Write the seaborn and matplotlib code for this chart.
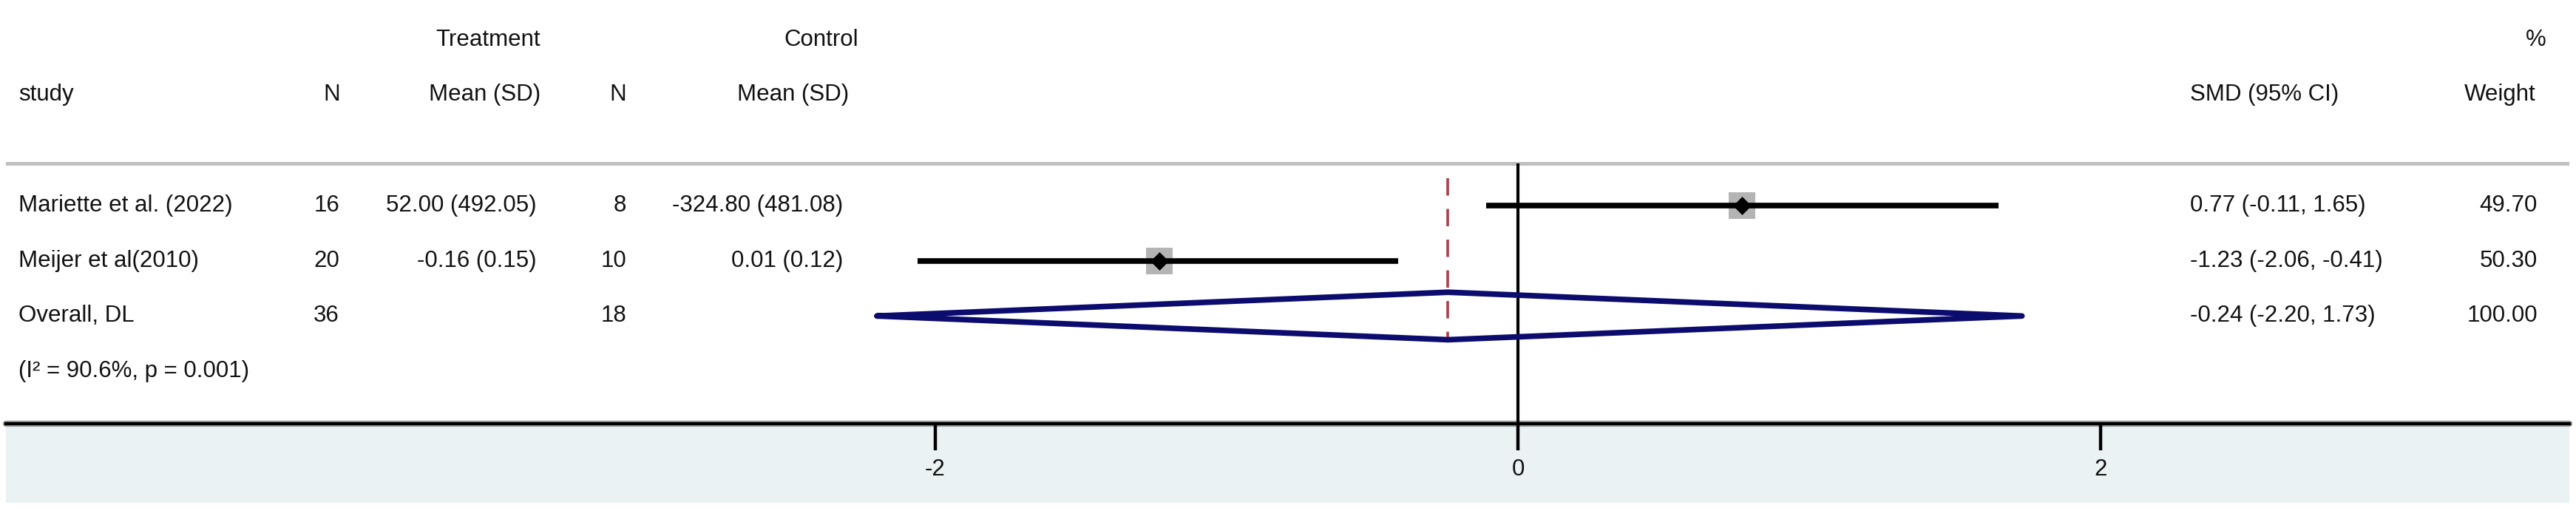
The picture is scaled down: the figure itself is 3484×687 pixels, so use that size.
import matplotlib
matplotlib.use("Agg")
import matplotlib.pyplot as plt
import matplotlib.transforms as mtransforms
from matplotlib.patches import Rectangle
import seaborn as sns
import pandas as pd

# study level data
studies = ["Mariette et al. (2022)", "Meijer et al(2010)"]
n_treat = [16, 20]
mean_sd_treat = ["52.00 (492.05)", "-0.16 (0.15)"]
n_ctrl = [8, 10]
mean_sd_ctrl = ["-324.80 (481.08)", "0.01 (0.12)"]
smd = [0.77, -1.23]
ci_low = [-0.11, -2.06]
ci_high = [1.65, -0.41]
weights = [49.70, 50.30]

# pooled estimate
overall_label = "Overall, DL"
overall_n_treat = 36
overall_n_ctrl = 18
overall_smd = -0.24
overall_low = -2.20
overall_high = 1.73
overall_weight = 100.00
het_text = "(I\u00b2 = 90.6%, p = 0.001)"

x_ticks = [-2, 0, 2]

sns.set_style("white")
plt.rcParams['font.family'] = ['Liberation Sans', 'DejaVu Sans']
plt.rcParams['axes.unicode_minus'] = False

W, H = 3484, 687
fs = 22.5
txt_col = '#111111'

df = pd.DataFrame({"study": studies, "smd": smd, "lo": ci_low, "hi": ci_high,
                   "row": range(1, len(studies) + 1)})
pool_row = len(studies) + 1

fig = plt.figure(figsize=(W / 100, H / 100), dpi=100)
ax = fig.add_axes([8 / W, (H - 573) / H, 3467 / W, 573 / H])

# light band under the axis
fig.patches.append(Rectangle((8 / W, 7 / H), 3467 / W, 107 / H, transform=fig.transFigure,
                             facecolor='#eaf2f3', edgecolor='none', zorder=-1))

# study estimates
sns.scatterplot(data=df, x="smd", y="row", marker="s", s=640, color="#b4b4b4",
                linewidth=0, ax=ax, zorder=3, legend=False)
ax.hlines(df["row"], df["lo"], df["hi"], color='black', lw=5.5, zorder=4)
sns.scatterplot(data=df, x="smd", y="row", marker="D", s=160, color="black",
                linewidth=0, ax=ax, zorder=5, legend=False)

# pooled diamond
hh = 0.43
ax.plot([overall_low, overall_smd, overall_high, overall_smd, overall_low],
        [pool_row, pool_row - hh, pool_row, pool_row + hh, pool_row],
        color='#0c0c6e', lw=5.5, zorder=4)

# reference lines
ax.vlines(0, 0.237, 4.95, color='black', lw=3, zorder=2)
ax.vlines(overall_smd, 0.505, 3.477, color='#a8404a', lw=2.6, linestyles=(0, (6.5, 5)), zorder=2)
ax.axhline(0.237, color='#c0c0c0', lw=3.6, zorder=1)
ax.axhline(4.95, color='#a0a0a0', lw=6, zorder=0, clip_on=False)


def px2v(p):
    return (p - 2053) / 394


ax.set_xlim(px2v(8), px2v(3475))
ax.set_ylim(4.95, -2.72)
ax.set_xlabel('')
ax.set_ylabel('')
ax.set_yticks([])
ax.set_xticks(x_ticks)
ax.set_xticklabels([str(t) for t in x_ticks])
ax.tick_params(axis='x', length=26, width=3.2, color='black', pad=8,
               labelsize=fs, labelcolor=txt_col, bottom=True)
for s in ['left', 'right', 'top']:
    ax.spines[s].set_visible(False)
ax.spines['bottom'].set_color('black')
ax.spines['bottom'].set_linewidth(3.2)

tr = mtransforms.blended_transform_factory(fig.transFigure, ax.transData)


def put(px, y, s, ha):
    ax.text(px / W, y, s, transform=tr, ha=ha, va='center', fontsize=fs, color=txt_col)


# header
put(731, -2, "Treatment", 'right')
put(1161, -2, "Control", 'right')
put(3444, -2, "%", 'right')
put(25, -1, "study", 'left')
put(460, -1, "N", 'right')
put(731, -1, "Mean (SD)", 'right')
put(847, -1, "N", 'right')
put(1148, -1, "Mean (SD)", 'right')
put(2962, -1, "SMD (95% CI)", 'left')
put(3430, -1, "Weight", 'right')

# rows
for i in range(len(studies)):
    r = i + 1
    put(25, r, studies[i], 'left')
    put(459, r, str(n_treat[i]), 'right')
    put(726, r, mean_sd_treat[i], 'right')
    put(847, r, str(n_ctrl[i]), 'right')
    put(1140, r, mean_sd_ctrl[i], 'right')
    put(2962, r, f"{smd[i]:.2f} ({ci_low[i]:.2f}, {ci_high[i]:.2f})", 'left')
    put(3432, r, f"{weights[i]:.2f}", 'right')

put(25, pool_row, overall_label, 'left')
put(459, pool_row, str(overall_n_treat), 'right')
put(847, pool_row, str(overall_n_ctrl), 'right')
put(2962, pool_row, f"{overall_smd:.2f} ({overall_low:.2f}, {overall_high:.2f})", 'left')
put(3432, pool_row, f"{overall_weight:.2f}", 'right')
put(25, pool_row + 1, het_text, 'left')

fig.savefig("out.png", dpi=100, facecolor='white')
